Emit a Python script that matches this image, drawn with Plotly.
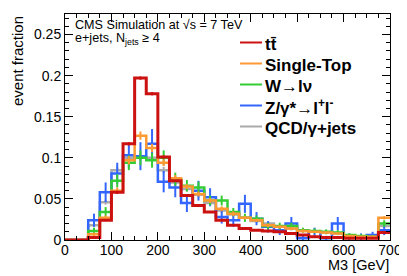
import plotly.graph_objects as go

# ---- data ----
bin_edges = [0, 25, 50, 75, 100, 125, 150, 175, 200, 225, 250, 275, 300, 325, 350,
             375, 400, 425, 450, 475, 500, 525, 550, 575, 600, 625, 650, 675, 700]

ttbar = [0, 0, 0.003, 0.024, 0.058, 0.117, 0.197, 0.178, 0.101, 0.072, 0.054, 0.042, 0.034, 0.024,
         0.018, 0.014, 0.012, 0.011, 0.010, 0.008, 0.006, 0.004, 0.003, 0.003, 0.002, 0.002, 0.002, 0.009]
ttbar_err = [0, 0, 0.001, 0.001, 0.002, 0.002, 0.002, 0.002, 0.002, 0.001, 0.001, 0.001, 0.001, 0.001,
             0.001, 0.001, 0.001, 0.001, 0.001, 0.001, 0.001, 0.001, 0.001, 0.001, 0.001, 0.001, 0.001, 0.001]

singletop = [0, 0, 0.007, 0.027, 0.060, 0.097, 0.127, 0.112, 0.094, 0.075, 0.065, 0.056, 0.048, 0.038,
             0.032, 0.027, 0.024, 0.018, 0.016, 0.014, 0.011, 0.010, 0.009, 0.008, 0.005, 0.004, 0.004, 0.027]
singletop_err = [0, 0, 0.002, 0.003, 0.004, 0.005, 0.005, 0.005, 0.004, 0.004, 0.003, 0.003, 0.003, 0.003,
                 0.003, 0.002, 0.002, 0.002, 0.002, 0.002, 0.002, 0.001, 0.001, 0.001, 0.001, 0.001, 0.001, 0.002]

wjets = [0, 0, 0.011, 0.034, 0.072, 0.094, 0.100, 0.097, 0.100, 0.074, 0.066, 0.064, 0.048, 0.048,
         0.034, 0.027, 0.026, 0.017, 0.017, 0.017, 0.012, 0.011, 0.010, 0.009, 0.006, 0.005, 0.004, 0.020]
wjets_err = [0, 0, 0.004, 0.006, 0.008, 0.009, 0.009, 0.009, 0.009, 0.008, 0.007, 0.007, 0.006, 0.006,
             0.005, 0.005, 0.004, 0.004, 0.004, 0.004, 0.003, 0.003, 0.003, 0.003, 0.002, 0.002, 0.002, 0.004]

zjets = [0, 0, 0.024, 0.058, 0.081, 0.103, 0.102, 0.117, 0.071, 0.064, 0.045, 0.060, 0.052, 0.028,
         0.024, 0.044, 0.026, 0.016, 0.012, 0.020, 0.002, 0.010, 0.002, 0.020, 0.004, 0.004, 0.006, 0.012]
zjets_err = [0, 0, 0.008, 0.012, 0.013, 0.015, 0.017, 0.018, 0.013, 0.012, 0.011, 0.012, 0.011, 0.008,
             0.008, 0.011, 0.008, 0.007, 0.006, 0.008, 0.003, 0.005, 0.003, 0.008, 0.004, 0.004, 0.004, 0.006]

qcd = [0, 0, 0.018, 0.046, 0.085, 0.100, 0.101, 0.100, 0.085, 0.070, 0.062, 0.055, 0.045, 0.036,
       0.031, 0.027, 0.023, 0.020, 0.016, 0.014, 0.011, 0.010, 0.009, 0.008, 0.005, 0.004, 0.004, 0.017]
qcd_err = [0, 0, 0.002, 0.003, 0.004, 0.004, 0.004, 0.004, 0.004, 0.003, 0.003, 0.003, 0.003, 0.003,
           0.002, 0.002, 0.002, 0.002, 0.002, 0.002, 0.001, 0.001, 0.001, 0.001, 0.001, 0.001, 0.001, 0.002]

labels = ["tt\u0304", "Single-Top", "W\u2192l\u03bd", "Z/\u03b3*\u2192l<sup>+</sup>l<sup>-</sup>", "QCD/\u03b3+jets"]
colors = ["#cc1111", "#ff9933", "#33cc33", "#3366ff", "#aaaaaa"]
widths = [3, 2.5, 2.5, 2.5, 2.5]
series = [ttbar, singletop, wjets, zjets, qcd]
errors = [ttbar_err, singletop_err, wjets_err, zjets_err, qcd_err]

centers = [(a + b) / 2 for a, b in zip(bin_edges[:-1], bin_edges[1:])]

FONT = "Liberation Sans, Arial, Helvetica, sans-serif"

fig = go.Figure()
draw_order = [4, 3, 2, 1, 0]
for i in draw_order:
    vals = series[i]
    fig.add_trace(go.Scatter(
        x=bin_edges, y=vals + [vals[-1]], mode="lines", line_shape="hv",
        line=dict(color=colors[i], width=widths[i]), showlegend=False, hoverinfo="skip"))
    fig.add_trace(go.Scatter(
        x=centers, y=vals, mode="markers", marker=dict(size=1, color=colors[i]),
        error_y=dict(type="data", array=errors[i], width=0, thickness=2, color=colors[i]),
        showlegend=False, hoverinfo="skip"))

# page body has an 8px margin; target plot area in window pixels: x 65..390, y 14..240
OFF = 8
W, H = 407 - OFF, 276 - OFF
L, R, T, B = 65, 390, 14, 240
def px(xp):
    return (xp - L) / (R - L)
def py(yp):
    return (B - yp) / (B - T)

annotations = []
shapes = []
legend_rows = [42.5, 63.5, 84.5, 105.5, 126.5]
for lab, col, yy in zip(labels, colors, legend_rows):
    shapes.append(dict(type="line", xref="paper", yref="paper", x0=px(240), x1=px(262),
                       y0=py(yy), y1=py(yy), line=dict(color=col, width=2)))
    annotations.append(dict(text="<b>" + lab + "</b>", xref="paper", yref="paper", x=px(263),
                            y=py(yy + 1.5), xanchor="left", yanchor="middle", showarrow=False,
                            font=dict(family=FONT, size=17, color="black")))

annotations.append(dict(text="CMS Simulation at \u221as = 7 TeV", xref="paper", yref="paper",
                        x=px(73), y=py(24.5), xanchor="left", yanchor="middle", showarrow=False,
                        font=dict(family=FONT, size=12.6, color="black")))
annotations.append(dict(text="e+jets, N<sub>jets</sub> \u2265 4", xref="paper", yref="paper",
                        x=px(73), y=py(39), xanchor="left", yanchor="middle", showarrow=False,
                        font=dict(family=FONT, size=12.6, color="black")))
annotations.append(dict(text="event fraction", xref="paper", yref="paper", x=px(17), y=py(14),
                        xanchor="center", yanchor="top", textangle=-90, showarrow=False,
                        font=dict(family=FONT, size=15, color="black")))
annotations.append(dict(text="M3 [GeV]", xref="paper", yref="paper", x=px(391), y=py(265),
                        xanchor="right", yanchor="middle", showarrow=False,
                        font=dict(family=FONT, size=14.5, color="black")))

fig.update_layout(
    width=W, height=H,
    margin=dict(l=L - OFF, r=W - (R - OFF), t=T - OFF, b=H - (B - OFF), pad=0),
    paper_bgcolor="white", plot_bgcolor="white",
    showlegend=False,
    annotations=annotations, shapes=shapes,
    font=dict(family=FONT, size=14, color="black"),
)
fig.update_xaxes(range=[0, 700], dtick=100, tick0=0, showgrid=False, zeroline=False,
                 showline=True, linecolor="black", linewidth=1, mirror="allticks",
                 ticks="inside", ticklen=8, tickcolor="black", tickwidth=1,
                 ticklabelstandoff=-3,
                 minor=dict(dtick=25, ticks="inside", ticklen=4, tickcolor="black", showgrid=False),
                 tickfont=dict(family=FONT, size=14, color="black"))
fig.update_yaxes(range=[0, 0.275], dtick=0.05, tick0=0, showgrid=False, zeroline=False,
                 showline=True, linecolor="black", linewidth=1, mirror="allticks",
                 ticks="inside", ticklen=8, tickcolor="black", tickwidth=1,
                 minor=dict(dtick=0.01, ticks="inside", ticklen=4, tickcolor="black", showgrid=False),
                 tickfont=dict(family=FONT, size=14, color="black"))

fig.write_html("out.html")
